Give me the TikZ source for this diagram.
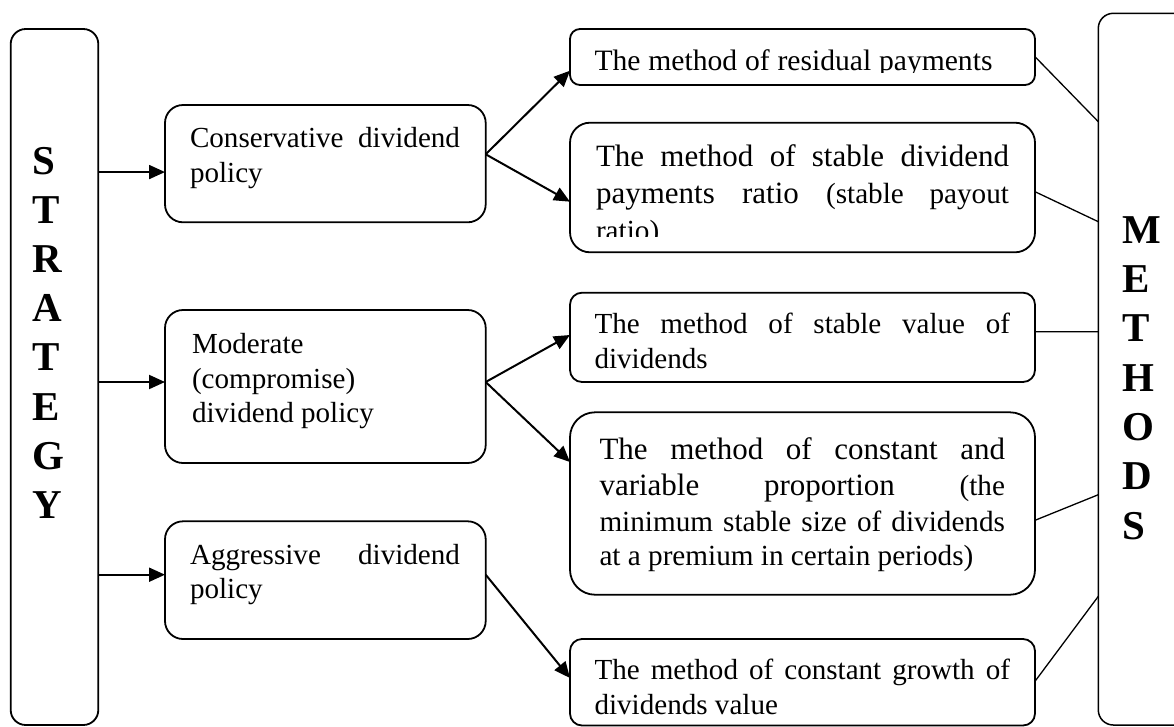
\documentclass[tikz,border=0pt]{standalone}
\usepackage{fontspec}
\setmainfont{Liberation Serif}
\usetikzlibrary{arrows.meta}
\newcommand\fmid{\fontsize{29.1pt}{34.7pt}\selectfont}
\newcommand\fbig{\fontsize{31pt}{35pt}\selectfont}
\newcommand\fsm{\fontsize{29.2pt}{34pt}\selectfont}
\newcommand\fres{\fontsize{29.6pt}{34pt}\selectfont}
\newcommand\fvert{\fontsize{41pt}{49.2pt}\selectfont\bfseries}
\tikzset{
  box/.style={draw, line width=1.8pt, inner sep=0pt, outer sep=0pt},
  mline/.style={line width=1.5pt, rounded corners=15pt},
  txt/.style={anchor=base west, inner sep=0pt, outer sep=0pt, font=\fmid},
  vl/.style={anchor=base west, inner sep=0pt, outer sep=0pt, font=\fvert},
  arr/.style={-{Triangle[length=16pt,width=14pt]}, line width=2pt},
  thin/.style={line width=1.3pt},
}
\begin{document}
\begin{tikzpicture}[x=1pt,y=-1pt]
\useasboundingbox (0,0) rectangle (1174,726);
\clip (0,0) rectangle (1174,726);
\fill[white] (0,0) rectangle (1174,726);

% outer columns
\node[box, rounded corners=15pt, minimum width=87.6pt, minimum height=696pt] (strat) at (54.5,377) {};
\node[inner sep=0pt, outer sep=0pt, minimum width=201.7pt, minimum height=711.7pt] (meth) at (1199.15,369.15) {};
\draw[mline] (meth.north east) -- (meth.north west) -- (meth.south west) -- (meth.south east);

% middle boxes
\node[box, rounded corners=18pt, minimum width=320.7pt, minimum height=117.3pt] (cons) at (325.35,163.65) {};
\node[box, rounded corners=18pt, minimum width=320.7pt, minimum height=153pt] (mod) at (325.35,386.5) {};
\node[box, rounded corners=18pt, minimum width=320.7pt, minimum height=117.7pt] (agg) at (325.35,580.15) {};

% right boxes
\node[box, rounded corners=10pt, minimum width=465pt, minimum height=56pt] (resid) at (802.5,57) {};
\node[box, rounded corners=20pt, minimum width=465pt, minimum height=129.6pt] (ratio) at (802.5,187.5) {};
\node[box, rounded corners=12pt, minimum width=465pt, minimum height=89.3pt] (value) at (802.5,337.35) {};
\node[box, rounded corners=25pt, minimum width=465pt, minimum height=182.4pt] (cv) at (802.5,503.5) {};
\node[box, rounded corners=12pt, minimum width=465pt, minimum height=86.5pt] (growth) at (802.5,682.25) {};

% vertical words
\foreach \l [count=\i from 0] in {S,T,R,A,T,E,G,Y}
  \node[vl] (st\i) at (32,{174+49.2*\i}) {\l};
\foreach \l [count=\i from 0] in {M,E,T,H,O,D,S}
  \node[vl] (me\i) at (1122.5,{243.3+49.3*\i}) {\l};

% middle texts
\node[txt] (cons1) at (190,147.7) {\makebox[270pt][s]{Conservative dividend}};
\node[txt] (cons2) at (190,182.7) {policy};
\node[txt] (mod1) at (192,353.3) {Moderate};
\node[txt] (mod2) at (192,388) {(compromise)};
\node[txt] (mod3) at (192,422.3) {dividend policy};
\node[txt] (agg1) at (190,564) {\makebox[270pt][s]{Aggressive dividend}};
\node[txt] (agg2) at (190,598) {policy};

% right texts
\begin{scope}
  \clip (570,20) rectangle (1040,72);
  \node[txt, font=\fres] (res1) at (594.5,70.5) {\makebox[398pt][s]{The method of residual payments}};
\end{scope}
\begin{scope}
  \clip (570,115) rectangle (1040,236.5);
  \node[txt, font=\fbig] (rat1) at (596,166.7) {\makebox[413pt][s]{The method of stable dividend}};
  \node[txt, font=\fbig] (rat2) at (596,203.3) {\makebox[413pt][s]{payments ratio \fsm(stable payout}};
  \node[txt, font=\fsm] (rat3) at (596,240) {ratio)};
\end{scope}
\node[txt] (val1) at (594.5,333.3) {\makebox[415.5pt][s]{The method of stable value of}};
\node[txt] (val2) at (594.5,368) {dividends};
\node[txt, font=\fbig] (cv1) at (599.5,459) {\makebox[405.5pt][s]{The method of constant and}};
\node[txt, font=\fbig] (cv2) at (599.5,495.5) {\makebox[405.5pt][s]{variable proportion \fsm(the}};
\node[txt, font=\fsm] (cv3) at (599.5,531) {\makebox[405.5pt][s]{minimum stable size of dividends}};
\node[txt, font=\fsm] (cv4) at (599.5,565) {at a premium in certain periods)};
\node[txt] (gr1) at (594.5,679.7) {\makebox[415.5pt][s]{The method of constant growth of}};
\node[txt] (gr2) at (594.5,714) {dividends value};

% strategy arrows
\coordinate (a1) at ([yshift=-8.4pt]cons.west);
\coordinate (a2) at ([yshift=4.5pt]mod.west);
\coordinate (a3) at ([yshift=5.45pt]agg.west);
\draw[arr] (strat.east |- a1) -- (a1);
\draw[arr] (strat.east |- a2) -- (a2);
\draw[arr] (strat.east |- a3) -- (a3);

% middle to right arrows
\draw[arr] ([yshift=9.35pt]cons.east) -- ([yshift=-13.7pt]resid.west);
\draw[arr] ([yshift=9.35pt]cons.east) -- ([yshift=-14.2pt]ratio.west);
\draw[arr] ([yshift=4.5pt]mod.east) -- ([yshift=2.35pt]value.west);
\draw[arr] ([yshift=4.5pt]mod.east) -- ([yshift=41.5pt]cv.west);
\draw[arr] ([yshift=5.45pt]agg.east) -- ([yshift=4.25pt]growth.west);

% right boxes to METHODS
\draw[thin] ([yshift=0.3pt]resid.east) -- ([yshift=247.45pt]meth.west);
\draw[thin] ([yshift=-4.2pt]ratio.east) -- ([yshift=147.45pt]meth.west);
\draw[thin] ([yshift=5.65pt]value.east) -- ([yshift=37.45pt]meth.west);
\draw[thin] ([yshift=-16.8pt]cv.east) -- ([yshift=-125.55pt]meth.west);
\draw[thin] ([yshift=0.95pt]growth.east) -- ([yshift=-227.15pt]meth.west);
\end{tikzpicture}
\end{document}
